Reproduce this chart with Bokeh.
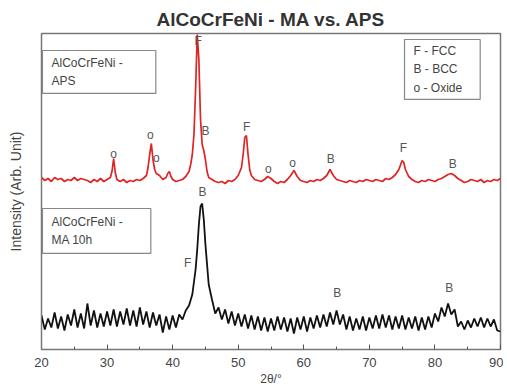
from bokeh.plotting import figure
from bokeh.models import Range1d, Label, FixedTicker
from bokeh.core.properties import value
from bokeh.embed import file_html
from bokeh.resources import INLINE

FONT = "Liberation Sans"

# APS coating pattern (red), 2theta in degrees, intensity in arbitrary units
aps_2theta = [20.0, 20.5, 21.0, 21.5, 22.0, 22.5, 23.0, 23.5, 24.0, 24.5, 25.0, 25.5, 26.0, 26.5, 27.0, 27.5,
              28.0, 28.5, 29.0, 29.5, 30.0, 30.5, 30.75, 31.0, 31.25, 31.5, 32.0, 32.5, 33.0, 33.5, 34.0, 34.5,
              35.0, 35.5, 36.0, 36.25, 36.5, 36.75, 37.0, 37.25, 37.5, 38.0, 38.5, 39.0, 39.25, 39.5, 39.75, 40.0,
              40.5, 41.0, 41.5, 42.0, 42.5, 42.75, 43.0, 43.25, 43.5, 43.75, 44.0, 44.25, 44.5, 44.75, 45.0, 45.25,
              45.5, 46.0, 46.5, 47.0, 47.5, 48.0, 48.5, 49.0, 49.5, 50.0, 50.5, 50.75, 51.0, 51.25, 51.5, 51.75,
              52.0, 52.5, 53.0, 53.5, 54.0, 54.5, 55.0, 55.5, 56.0, 56.5, 57.0, 57.5, 58.0, 58.5, 59.0, 59.5,
              60.0, 60.5, 61.0, 61.5, 62.0, 62.5, 63.0, 63.5, 64.0, 64.5, 65.0, 65.5, 66.0, 66.5, 67.0, 67.5,
              68.0, 68.5, 69.0, 69.5, 70.0, 70.5, 71.0, 71.5, 72.0, 72.5, 73.0, 73.5, 74.0, 74.5, 75.0, 75.25,
              75.5, 76.0, 76.5, 77.0, 77.5, 78.0, 78.5, 79.0, 79.5, 80.0, 80.5, 81.0, 81.5, 82.0, 82.5, 83.0,
              83.5, 84.0, 84.5, 85.0, 85.5, 86.0, 86.5, 87.0, 87.5, 88.0, 88.5, 89.0, 89.5, 90.0]
aps_intensity = [172, 169, 171, 168, 172, 170, 171, 168, 170, 169, 172, 169, 171, 170, 169, 167,
                 170, 168, 171, 168, 170, 172, 178, 191, 177, 170, 168, 170, 167, 169, 168, 170,
                 169, 171, 174, 182, 195, 206, 190, 180, 176, 174, 170, 172, 176, 178, 173, 170,
                 168, 169, 170, 173, 178, 185, 195, 215, 260, 315, 290, 230, 205, 199, 190, 178,
                 172, 170, 168, 167, 168, 166, 169, 168, 170, 174, 182, 195, 212, 214, 195, 180,
                 174, 170, 169, 168, 170, 173, 171, 168, 166, 168, 167, 170, 174, 179, 173, 169,
                 168, 167, 169, 168, 170, 169, 171, 174, 180, 174, 170, 169, 168, 167, 169, 168,
                 167, 169, 168, 170, 169, 168, 170, 169, 168, 171, 170, 172, 175, 180, 189, 187,
                 180, 173, 170, 168, 167, 169, 168, 170, 169, 168, 170, 171, 173, 175, 176, 174,
                 171, 169, 167, 168, 170, 169, 168, 170, 167, 169, 168, 170, 169, 171]

# MA 10h powder pattern (black)
ma_2theta = [20.0, 20.5, 21.0, 21.5, 22.0, 22.5, 23.0, 23.5, 24.0, 24.5, 25.0, 25.5, 26.0, 26.5, 27.0, 27.5,
             28.0, 28.5, 29.0, 29.5, 30.0, 30.5, 31.0, 31.5, 32.0, 32.5, 33.0, 33.5, 34.0, 34.5, 35.0, 35.5,
             36.0, 36.5, 37.0, 37.5, 38.0, 38.5, 39.0, 39.5, 40.0, 40.5, 41.0, 41.5, 42.0, 42.5, 43.0, 43.5,
             43.75, 44.0, 44.25, 44.5, 44.75, 45.0, 45.25, 45.5, 46.0, 46.5, 47.0, 47.5, 48.0, 48.5, 49.0, 49.5,
             50.0, 50.5, 51.0, 51.5, 52.0, 52.5, 53.0, 53.5, 54.0, 54.5, 55.0, 55.5, 56.0, 56.5, 57.0, 57.5,
             58.0, 58.5, 59.0, 59.5, 60.0, 60.5, 61.0, 61.5, 62.0, 62.5, 63.0, 63.5, 64.0, 64.5, 65.0, 65.5,
             66.0, 66.5, 67.0, 67.5, 68.0, 68.5, 69.0, 69.5, 70.0, 70.5, 71.0, 71.5, 72.0, 72.5, 73.0, 73.5,
             74.0, 74.5, 75.0, 75.5, 76.0, 76.5, 77.0, 77.5, 78.0, 78.5, 79.0, 79.5, 80.0, 80.5, 81.0, 81.5,
             82.0, 82.5, 83.0, 83.5, 84.0, 84.5, 85.0, 85.5, 86.0, 86.5, 87.0, 87.5, 88.0, 88.5, 89.0, 89.5, 90.0]
ma_intensity = [34, 20, 31, 22, 37, 21, 33, 19, 35, 24, 40, 22, 36, 21, 46, 24,
                39, 22, 36, 23, 38, 24, 40, 23, 38, 25, 41, 24, 39, 23, 42, 25,
                38, 22, 37, 24, 35, 17, 33, 20, 34, 22, 35, 30, 39, 44, 55, 80,
                100, 125, 143, 146, 130, 105, 85, 65, 50, 36, 42, 30, 40, 26, 38, 24,
                36, 23, 35, 21, 34, 20, 33, 19, 32, 18, 31, 19, 33, 20, 32, 18,
                31, 16, 32, 20, 33, 18, 32, 21, 34, 22, 35, 23, 37, 25, 39, 25,
                35, 20, 33, 19, 31, 20, 33, 19, 32, 21, 34, 21, 35, 22, 34, 20,
                33, 21, 34, 20, 32, 21, 33, 19, 32, 20, 33, 22, 36, 28, 42, 33,
                46, 35, 40, 23, 28, 20, 29, 22, 31, 23, 32, 22, 31, 23, 30, 19, 18]

# phase markers above peaks
aps_mark_x = [31.0, 36.6, 37.5, 43.9, 45.0, 51.3, 54.6, 58.3, 64.1, 75.2, 82.7]
aps_mark_y = [196, 215, 192, 309, 219, 223, 181, 187, 191, 202, 186]
aps_mark_t = ["o", "o", "o", "F", "B", "F", "o", "o", "B", "F", "B"]
ma_mark_x = [44.55, 42.3, 65.1, 82.2]
ma_mark_y = [158, 87, 57, 62]
ma_mark_t = ["B", "F", "B", "B"]

x_ticks = [20, 30, 40, 50, 60, 70, 80, 90]

p = figure(width=503, height=390, output_backend="svg", toolbar_location=None,
           x_range=Range1d(20, 90), y_range=Range1d(0, 316),
           min_border_left=41, min_border_right=3, min_border_top=33, min_border_bottom=41)
p.title.text = "AlCoCrFeNi - MA vs. APS"
p.title.align = "center"
p.title.text_font = FONT
p.title.text_font_size = "19px"
p.title.text_font_style = "bold"
p.title.text_color = "#333333"
p.title.standoff = 7

p.xgrid.visible = False
p.ygrid.visible = False
p.outline_line_color = "#777777"
p.outline_line_width = 1.5

p.xaxis.ticker = FixedTicker(ticks=x_ticks, minor_ticks=[25, 35, 45, 55, 65, 75, 85])
p.xaxis.major_tick_in = 5
p.xaxis.major_tick_out = 0
p.xaxis.minor_tick_in = 3
p.xaxis.minor_tick_out = 0
p.xaxis.axis_line_color = "#777777"
p.xaxis.major_tick_line_color = "#555555"
p.xaxis.minor_tick_line_color = "#555555"
p.xaxis.major_label_text_font = FONT
p.xaxis.major_label_text_font_size = "13px"
p.xaxis.major_label_text_color = "#444444"
p.xaxis.major_label_standoff = 8
p.xaxis.axis_label = "2θ/°"
p.xaxis.axis_label_text_font = FONT
p.xaxis.axis_label_text_font_size = "12px"
p.xaxis.axis_label_text_font_style = "normal"
p.xaxis.axis_label_text_color = "#444444"
p.xaxis.axis_label_standoff = 2

p.yaxis.ticker = FixedTicker(ticks=[])
p.yaxis.major_label_text_font_size = "0px"
p.yaxis.major_tick_in = 0
p.yaxis.major_tick_out = 0
p.yaxis.minor_tick_line_color = None
p.yaxis.axis_line_color = "#777777"
p.yaxis.axis_label = "Intensity (Arb. Unit)"
p.yaxis.axis_label_text_font = FONT
p.yaxis.axis_label_text_font_size = "14px"
p.yaxis.axis_label_text_font_style = "normal"
p.yaxis.axis_label_text_color = "#444444"
p.yaxis.axis_label_standoff = 18

p.line(ma_2theta, ma_intensity, line_color="#111111", line_width=1.8)
p.line(aps_2theta, aps_intensity, line_color="#e02424", line_width=1.7)

p.text(aps_mark_x, aps_mark_y, text=aps_mark_t, text_align="center", text_baseline="middle",
       text_font=value(FONT), text_font_size="12px", text_color="#555555")
p.text(ma_mark_x, ma_mark_y, text=ma_mark_t, text_align="center", text_baseline="middle",
       text_font=value(FONT), text_font_size="12px", text_color="#555555")

box_style = dict(text_font=FONT, text_font_size="12px", text_color="#444444",
                 border_line_color="#888888", border_line_width=1.2,
                 background_fill_color="white", anchor="top_left", text_line_height=1.35)

p.add_layout(Label(x=20.15, y=299, text="AlCoCrFeNi -\nAPS",
                   padding=dict(left=9, right=33, top=5, bottom=5), **box_style))
p.add_layout(Label(x=20.15, y=141, text="AlCoCrFeNi -\nMA 10h",
                   padding=dict(left=9, right=28, top=6, bottom=6), **box_style))
p.add_layout(Label(x=75.36, y=310, text="F - FCC\nB - BCC\no - Oxide",
                   padding=dict(left=9, right=18, top=4, bottom=4),
                   **{**box_style, "text_line_height": 1.35}))

open("out.html", "w").write(file_html(p, INLINE))
